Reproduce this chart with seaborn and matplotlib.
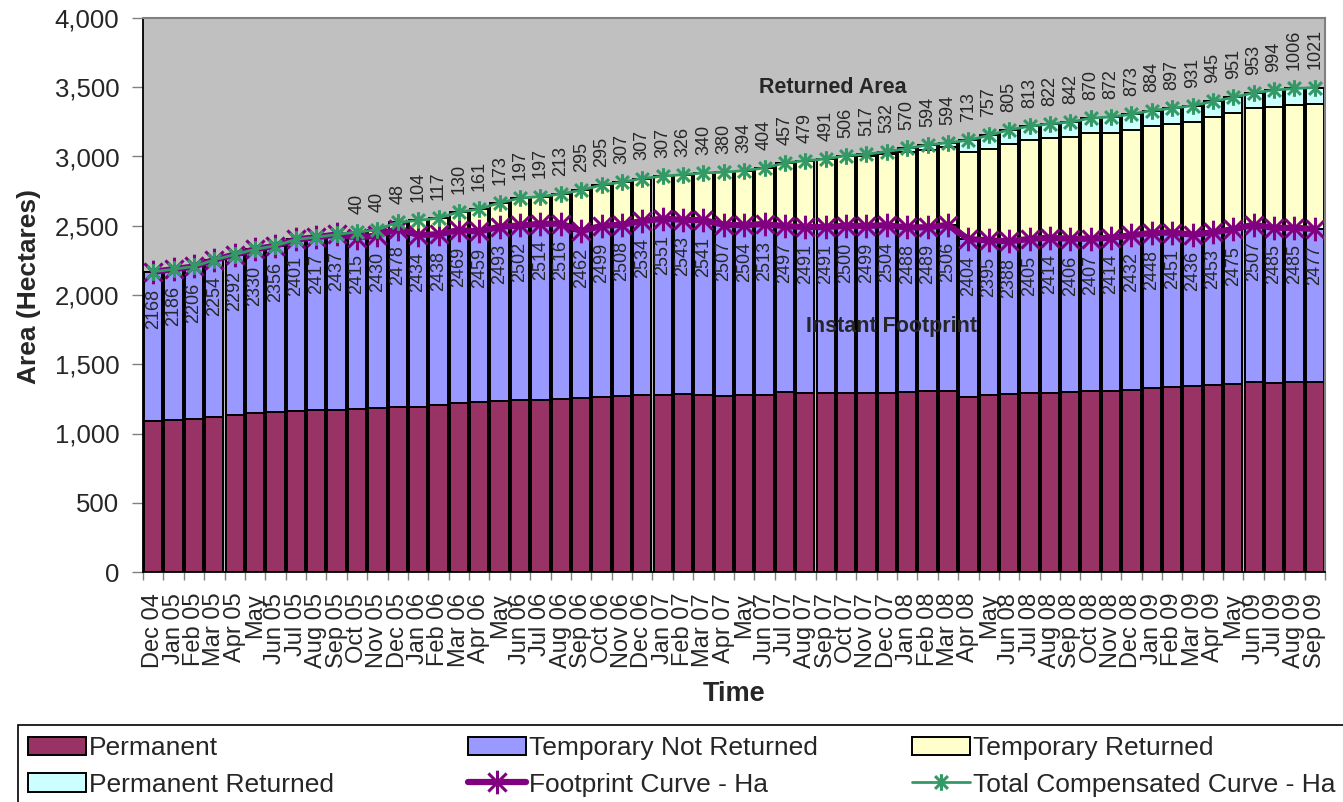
import numpy as np
import pandas as pd
import matplotlib
matplotlib.use("Agg")
import matplotlib.pyplot as plt
from matplotlib.path import Path
from matplotlib.patches import Rectangle
from matplotlib.ticker import MultipleLocator, FuncFormatter
import seaborn as sns

# =============================================
# Data (hectares, monthly)
months = ['Dec 04', 'Jan 05', 'Feb 05', 'Mar 05', 'Apr 05', 'May', 'Jun 05', 'Jul 05', 'Aug 05', 'Sep 05',
          'Oct 05', 'Nov 05', 'Dec 05', 'Jan 06', 'Feb 06', 'Mar 06', 'Apr 06', 'May', 'Jun 06', 'Jul 06',
          'Aug 06', 'Sep 06', 'Oct 06', 'Nov 06', 'Dec 06', 'Jan 07', 'Feb 07', 'Mar 07', 'Apr 07', 'May',
          'Jun 07', 'Jul 07', 'Aug 07', 'Sep 07', 'Oct 07', 'Nov 07', 'Dec 07', 'Jan 08', 'Feb 08', 'Mar 08',
          'Apr 08', 'May', 'Jun 08', 'Jul 08', 'Aug 08', 'Sep 08', 'Oct 08', 'Nov 08', 'Dec 08', 'Jan 09',
          'Feb 09', 'Mar 09', 'Apr 09', 'May', 'Jun 09', 'Jul 09', 'Aug 09', 'Sep 09']

# instant footprint = permanent + temporary not returned (labels inside the bars)
footprint = [2168, 2186, 2206, 2254, 2292, 2330, 2356, 2401, 2417, 2437,
             2415, 2430, 2478, 2434, 2438, 2469, 2459, 2493, 2502, 2514,
             2516, 2462, 2499, 2508, 2534, 2551, 2543, 2541, 2507, 2504,
             2513, 2497, 2491, 2491, 2500, 2499, 2504, 2488, 2489, 2506,
             2404, 2395, 2388, 2405, 2414, 2406, 2407, 2414, 2432, 2448,
             2451, 2436, 2453, 2475, 2507, 2485, 2485, 2477]

# total returned area (labels above the bars)
returned = [0, 0, 0, 0, 0, 0, 0, 0, 0, 0,
            40, 40, 48, 104, 117, 130, 161, 173, 197, 197,
            213, 295, 295, 307, 307, 307, 326, 340, 380, 394,
            404, 457, 479, 491, 506, 517, 532, 570, 594, 594,
            713, 757, 805, 813, 822, 842, 870, 872, 873, 884,
            897, 931, 945, 951, 953, 994, 1006, 1021]

permanent = [1090, 1097, 1107, 1119, 1136, 1148, 1155, 1160, 1167, 1172,
             1175, 1182, 1189, 1194, 1206, 1220, 1227, 1232, 1242, 1244,
             1249, 1256, 1264, 1268, 1276, 1280, 1283, 1278, 1273, 1276,
             1280, 1297, 1292, 1292, 1290, 1290, 1290, 1297, 1304, 1309,
             1261, 1280, 1285, 1290, 1295, 1297, 1304, 1307, 1314, 1326,
             1333, 1341, 1350, 1357, 1369, 1365, 1369, 1372]

perm_returned = [0, 0, 0, 0, 0, 0, 0, 0, 0, 0,
                 0, 0, 0, 0, 0, 0, 0, 0, 0, 0,
                 0, 0, 0, 0, 0, 0, 0, 0, 0, 0,
                 0, 0, 0, 0, 5, 15, 20, 28, 33, 33,
                 88, 100, 106, 102, 104, 108, 110, 113, 116, 113,
                 113, 117, 110, 110, 110, 120, 116, 122]

# =============================================
# Style
sns.set_theme(style="ticks")
plt.rcParams['font.family'] = ['Liberation Sans', 'DejaVu Sans']

col_perm = '#993366'
col_temp_nr = '#9999FF'
col_temp_r = '#FFFFCC'
col_perm_r = '#CCFFFF'
col_foot = '#800080'
col_total = '#339966'

df = pd.DataFrame({'pos': range(len(months)), 'month': months, 'permanent': permanent,
                   'footprint': footprint, 'returned': returned, 'perm_returned': perm_returned})
df['total'] = df['footprint'] + df['returned']
df['temp_top'] = df['total'] - df['perm_returned']

W, H = 1343, 802
fig = plt.figure(figsize=(W / 100, H / 100), dpi=100)
ax = fig.add_axes([143 / W, 1 - 572 / H, (1325 - 143) / W, (572 - 18) / H])
ax.set_facecolor('#C0C0C0')

# stacked bars drawn as overlapping cumulative bars (tallest first)
layers = [('total', col_perm_r, 'Permanent Returned'),
          ('temp_top', col_temp_r, 'Temporary Returned'),
          ('footprint', col_temp_nr, 'Temporary Not Returned'),
          ('permanent', col_perm, 'Permanent')]
for col, c, lab in layers:
    sns.barplot(data=df, x='pos', y=col, color=c, saturation=1, width=0.9, errorbar=None,
                edgecolor='black', linewidth=1.4, label=lab, ax=ax)

# asterisk marker like the spreadsheet "star"
star = Path([(-1, -1), (1, 1), (-1, 1), (1, -1), (0, -1.3), (0, 1.3)],
            [Path.MOVETO, Path.LINETO] * 3)

sns.lineplot(data=df, x='pos', y='footprint', color=col_foot, lw=4.5, marker=star, markersize=17,
             markeredgewidth=2.2, markeredgecolor=col_foot, label='Footprint Curve - Ha', ax=ax)
sns.lineplot(data=df, x='pos', y='total', color=col_total, lw=2, marker=star, markersize=12,
             markeredgewidth=2.2, markeredgecolor=col_total, label='Total Compensated Curve - Ha', ax=ax)

# value labels
for _, r in df.iterrows():
    ax.annotate(str(r['footprint']), (r['pos'], r['footprint']), xytext=(0, -12),
                textcoords='offset points', rotation=90, ha='center', va='top', fontsize=13)
    if r['returned'] > 0:
        ax.annotate(str(r['returned']), (r['pos'], r['total']), xytext=(0, 13),
                    textcoords='offset points', rotation=90, ha='center', va='bottom', fontsize=13)

ax.text(0.584, 0.875, 'Returned Area', transform=ax.transAxes, ha='center', va='center',
        fontsize=15.5, fontweight='bold')
ax.text(0.633, 0.444, 'Instant Footprint', transform=ax.transAxes, ha='center', va='center',
        fontsize=15.5, fontweight='bold')

# axes
ax.set_xlim(-0.5, len(months) - 0.5)
ax.set_ylim(0, 4000)
ax.yaxis.set_major_locator(MultipleLocator(500))
ax.yaxis.set_major_formatter(FuncFormatter(lambda v, p: f'{v:,.0f}'))
ax.set_xticks(df['pos'])
ax.set_xticklabels(df['month'], rotation=90, fontsize=17)
ax.set_xticks(np.arange(-0.5, len(months)), minor=True)
ax.tick_params(axis='x', which='major', length=0, pad=15)
ax.tick_params(axis='x', which='minor', length=6, width=1, color='#808080')
ax.tick_params(axis='y', length=8, width=1, color='#808080', pad=9, labelsize=18.5)

for s in ['left', 'bottom']:
    ax.spines[s].set_color('black')
    ax.spines[s].set_linewidth(1.3)
for s in ['top', 'right']:
    ax.spines[s].set_visible(True)
    ax.spines[s].set_color('#808080')
    ax.spines[s].set_linewidth(1.5)

ax.set_ylabel('Area (Hectares)', fontsize=19, fontweight='bold')
ax.yaxis.set_label_coords(-0.086, 0.515)
ax.set_xlabel('Time', fontsize=19.5, fontweight='bold')
ax.xaxis.set_label_coords(0.5, -0.196)

# legend below the chart: three columns of two entries inside one frame
handles, labels = ax.get_legend_handles_labels()
hmap = dict(zip(labels, handles))
ax.get_legend().remove()
columns = [(28, ['Permanent', 'Permanent Returned']),
           (468, ['Temporary Not Returned', 'Footprint Curve - Ha']),
           (912, ['Temporary Returned', 'Total Compensated Curve - Ha'])]
for x0, keys in columns:
    fig.legend([hmap[k] for k in keys], keys, loc='upper left', bbox_to_anchor=(x0 / W, 1 - 736 / H),
               fontsize=19, frameon=False, borderaxespad=0, borderpad=0, handlelength=2.2,
               handleheight=0.7, handletextpad=0.1, labelspacing=0.48)
fig.add_artist(Rectangle((18 / W, -0.05), 1.1, (H - 725) / H + 0.05, transform=fig.transFigure,
                         fill=False, edgecolor='black', lw=1.2))

fig.savefig('out.png', dpi=100)
